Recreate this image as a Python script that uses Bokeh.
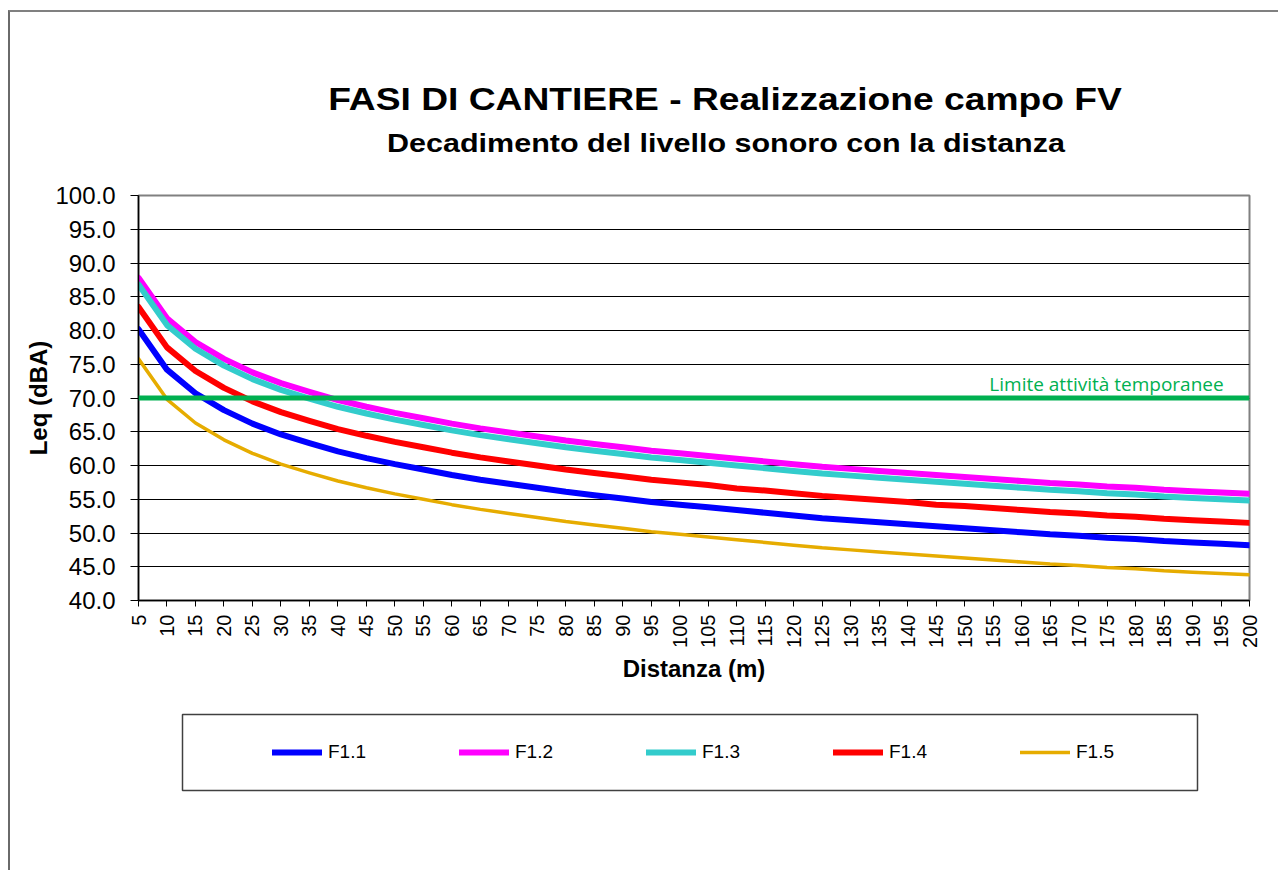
import math
from bokeh.plotting import figure
from bokeh.layouts import column
from bokeh.models import (Range1d, FixedTicker, PrintfTickFormatter, Span, Label,
                          Legend, LegendItem, Div)
from bokeh.embed import file_html
from bokeh.resources import INLINE

# ---------------- data ----------------
distanza = [5, 10, 15, 20, 25, 30, 35, 40, 45, 50, 55, 60, 65, 70, 75, 80, 85, 90, 95, 100,
            105, 110, 115, 120, 125, 130, 135, 140, 145, 150, 155, 160, 165, 170, 175, 180,
            185, 190, 195, 200]

f1_1 = [80.2, 74.2, 70.7, 68.2, 66.2, 64.6, 63.3, 62.1, 61.1, 60.2, 59.4, 58.6, 57.9, 57.3,
        56.7, 56.1, 55.6, 55.1, 54.6, 54.2, 53.8, 53.4, 53.0, 52.6, 52.2, 51.9, 51.6, 51.3,
        51.0, 50.7, 50.4, 50.1, 49.8, 49.6, 49.3, 49.1, 48.8, 48.6, 48.4, 48.2]
f1_2 = [87.8, 81.8, 78.3, 75.8, 73.8, 72.2, 70.9, 69.7, 68.7, 67.8, 67.0, 66.2, 65.5, 64.9,
        64.3, 63.7, 63.2, 62.7, 62.2, 61.8, 61.4, 61.0, 60.6, 60.2, 59.8, 59.5, 59.2, 58.9,
        58.6, 58.3, 58.0, 57.7, 57.4, 57.2, 56.9, 56.7, 56.4, 56.2, 56.0, 55.8]
f1_3 = [86.8, 80.8, 77.3, 74.8, 72.8, 71.2, 69.9, 68.7, 67.7, 66.8, 66.0, 65.2, 64.5, 63.9,
        63.3, 62.7, 62.2, 61.7, 61.2, 60.8, 60.4, 60.0, 59.6, 59.2, 58.8, 58.5, 58.2, 57.9,
        57.6, 57.3, 57.0, 56.7, 56.4, 56.2, 55.9, 55.7, 55.4, 55.2, 55.0, 54.8]
f1_4 = [83.5, 77.5, 74.0, 71.5, 69.5, 67.9, 66.6, 65.4, 64.4, 63.5, 62.7, 61.9, 61.2, 60.6,
        60.0, 59.4, 58.9, 58.4, 57.9, 57.5, 57.1, 56.6, 56.3, 55.9, 55.5, 55.2, 54.9, 54.6,
        54.2, 54.0, 53.7, 53.4, 53.1, 52.9, 52.6, 52.4, 52.1, 51.9, 51.7, 51.5]
f1_5 = [75.8, 69.8, 66.3, 63.8, 61.8, 60.2, 58.9, 57.7, 56.7, 55.8, 55.0, 54.2, 53.5, 52.9,
        52.3, 51.7, 51.2, 50.7, 50.2, 49.8, 49.4, 49.0, 48.6, 48.2, 47.8, 47.5, 47.2, 46.9,
        46.6, 46.3, 46.0, 45.7, 45.4, 45.2, 44.9, 44.7, 44.4, 44.2, 44.0, 43.8]

series_names = ["F1.1", "F1.2", "F1.3", "F1.4", "F1.5"]
limite = 70.0
y_ticks = [40, 45, 50, 55, 60, 65, 70, 75, 80, 85, 90, 95, 100]

title_text = "FASI DI CANTIERE - Realizzazione campo FV"
subtitle_text = "Decadimento del livello sonoro con la distanza"
limit_text = "Limite attività temporanee"

# ---------------- layout ----------------
OX, OY = 10, 12                      # content origin on the page (inside the outer border)
W = 1268
H_TITLE = 160
H_MAIN = 530
H_LEG = 168
MAIN_TOP_PAGE = OY + H_TITLE
FRAME_L, FRAME_R, FRAME_T, FRAME_B = 138, 1249, 195, 600      # page pixels
LEG_L, LEG_R, LEG_T, LEG_B = 182, 1197, 714, 790              # page pixels (legend box)
LEG_TOP_PAGE = MAIN_TOP_PAGE + H_MAIN
LEG_BOT_PAGE = LEG_TOP_PAGE + H_LEG
X0, X1, Y0, Y1 = 5, 200, 40, 100
KX = (FRAME_R - FRAME_L) / (X1 - X0)
KY = (FRAME_B - FRAME_T) / (Y1 - Y0)


def px_x(px):
    return X0 + (px - FRAME_L) / KX


def px_y(py):
    return Y1 + (FRAME_T - py) / KY


FONT = "Liberation Sans"
BORDER_L = FRAME_L - OX
BORDER_R = W - (FRAME_R - OX)

# ---------------- titles ----------------
def title_line(text, size, scale, baseline_page, center_page):
    top = baseline_page - 0.8465 * size - OY
    left = center_page - OX
    return (f'<div style="position:absolute; top:{top:.1f}px; left:{left:.1f}px; '
            f'white-space:nowrap; font-family:\'{FONT}\'; font-weight:bold; '
            f'font-size:{size}px; line-height:{size}px; color:black; '
            f'transform:translateX(-50%) scaleX({scale});">{text}</div>')


title_html = (f'<div style="position:relative; width:{W}px; height:{H_TITLE}px; margin:0;">'
              + title_line(title_text, 31, 1.2, 110, 724.5)
              + title_line(subtitle_text, 25, 1.22, 152, 725.5)
              + '</div>')
titles = Div(text=title_html, width=W, height=H_TITLE, margin=0)

# ---------------- main plot ----------------
p = figure(width=W, height=H_MAIN, output_backend="svg", toolbar_location=None,
           x_range=Range1d(X0, X1), y_range=Range1d(Y0, Y1),
           min_border_left=BORDER_L, min_border_right=BORDER_R,
           min_border_top=FRAME_T - MAIN_TOP_PAGE,
           min_border_bottom=H_MAIN - (FRAME_B - MAIN_TOP_PAGE))

p.background_fill_color = "white"
p.border_fill_color = "white"
p.outline_line_color = "#808080"
p.outline_line_width = 2

# axes
p.xaxis.ticker = FixedTicker(ticks=distanza)
p.xaxis.major_label_orientation = math.pi / 2
p.xaxis.major_label_text_font = FONT
p.xaxis.major_label_text_font_size = "20px"
p.xaxis.major_label_text_color = "black"
p.xaxis.major_tick_out = 6
p.xaxis.major_tick_in = 0
p.xaxis.minor_tick_line_color = None
p.xaxis.major_label_standoff = 8
p.xaxis.axis_label = "Distanza (m)"
p.xaxis.axis_label_text_font = FONT
p.xaxis.axis_label_text_font_style = "bold"
p.xaxis.axis_label_text_font_size = "24px"
p.xaxis.axis_label_text_color = "black"
p.xaxis.axis_label_standoff = 4
p.xaxis.axis_line_color = "black"
p.xaxis.axis_line_width = 1.5
p.xaxis.major_tick_line_color = "black"

p.yaxis.ticker = FixedTicker(ticks=y_ticks)
p.yaxis.formatter = PrintfTickFormatter(format="%.1f")
p.yaxis.major_label_text_font = FONT
p.yaxis.major_label_text_font_size = "24px"
p.yaxis.major_label_text_color = "black"
p.yaxis.major_tick_out = 8
p.yaxis.major_tick_in = 0
p.yaxis.minor_tick_line_color = None
p.yaxis.major_label_standoff = 15
p.yaxis.axis_label = "Leq (dBA)"
p.yaxis.axis_label_text_font = FONT
p.yaxis.axis_label_text_font_style = "bold"
p.yaxis.axis_label_text_font_size = "24px"
p.yaxis.axis_label_text_color = "black"
p.yaxis.axis_label_standoff = 0
p.yaxis.axis_line_color = "black"
p.yaxis.axis_line_width = 1.5
p.yaxis.major_tick_line_color = "black"

p.xgrid.visible = False
p.ygrid.ticker = FixedTicker(ticks=y_ticks)
p.ygrid.grid_line_color = "black"
p.ygrid.grid_line_width = 1

# series
colors = ["#0000FF", "#FF00FF", "#33CCCC", "#FF0000", "#E6AC00"]
widths = [6, 6, 6, 6, 3.5]
all_series = [f1_1, f1_2, f1_3, f1_4, f1_5]
for ys, c, w in zip(all_series, colors, widths):
    p.line(distanza, ys, line_color=c, line_width=w, line_join="round", line_cap="round")

# limit line and its label
p.add_layout(Span(location=limite, dimension="width", line_color="#00B050", line_width=5))
p.add_layout(Label(x=px_x(1106), y=px_y(383), text=limit_text, text_align="center",
                   text_baseline="alphabetic", text_font="Open Sans", text_font_size="19px",
                   text_color="#00B050"))

# ---------------- legend panel (page-pixel coordinates) ----------------
lp = figure(width=W, height=H_LEG, output_backend="svg", toolbar_location=None,
            x_range=Range1d(FRAME_L, FRAME_R), y_range=Range1d(LEG_BOT_PAGE, LEG_TOP_PAGE),
            x_axis_location=None, y_axis_location=None,
            min_border_left=BORDER_L, min_border_right=BORDER_R,
            min_border_top=0, min_border_bottom=0)
lp.grid.visible = False
lp.background_fill_color = "white"
lp.border_fill_color = "white"
lp.outline_line_color = None

# the legend box
lp.quad(left=[LEG_L], right=[LEG_R], top=[LEG_T], bottom=[LEG_B],
        fill_color=None, line_color="#404040", line_width=1.5)

leg_renderers = []
for ys, c, w in zip(all_series, colors, widths):
    # same series; they fall outside this panel's ranges, only their legend keys show
    r = lp.line(distanza, ys, line_color=c, line_width=w, line_join="round", line_cap="round")
    leg_renderers.append(r)

legend = Legend(items=[LegendItem(label=n, renderers=[r]) for n, r in zip(series_names, leg_renderers)],
                orientation="horizontal", location=(272 - FRAME_L, LEG_BOT_PAGE - 763),
                glyph_width=50, glyph_height=22, label_standoff=6, label_width=40, spacing=91,
                padding=0, margin=0, border_line_alpha=0, background_fill_alpha=0,
                label_text_font=FONT, label_text_font_size="19px", label_text_color="black")
lp.add_layout(legend)

root = column(titles, p, lp, spacing=0,
              styles={"margin-top": "10px", "margin-left": "8px",
                      "border-top": "2px solid #808080", "border-left": "2px solid #6a6a6a"})

open("out.html", "w").write(file_html(root, INLINE))
